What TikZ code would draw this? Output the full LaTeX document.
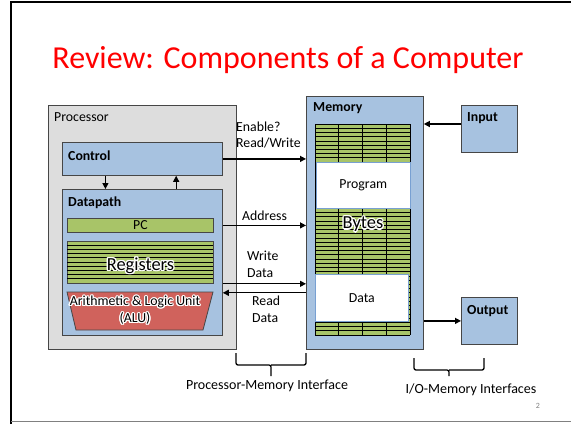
\documentclass[tikz,border=0pt]{standalone}
\usepackage{fontspec}
\setmainfont{Carlito}
\usepackage{contour}
\contourlength{1.3pt}
\contournumber{12}
\usetikzlibrary{arrows.meta,calc}
\definecolor{slgray}{RGB}{221,221,221}
\definecolor{slblue}{RGB}{167,194,224}
\definecolor{slgreen}{RGB}{168,196,104}
\definecolor{slred}{RGB}{208,98,92}
\definecolor{slrim}{RGB}{70,70,70}
\definecolor{slpale}{RGB}{120,160,210}

\tikzset{
  blk/.style={draw=slrim, line width=0.8pt, anchor=north west, inner sep=0pt,
    font=\fontsize{13.8}{16.5}\selectfont},
  tag/.style={anchor=west, inner sep=0pt, align=left,
    font=\fontsize{13.8}{16.5}\selectfont},
  btag/.style={tag, font=\fontsize{13.8}{16.5}\selectfont\bfseries},
  bus/.style={line width=1.2pt, -{Triangle[length=6pt,width=6pt]}},
  stripe/.style={line width=0.7pt, black},
  brc/.style={line width=1.3pt, rounded corners=2pt},
}
\newcommand{\halo}[1]{\contour{white}{#1}}

\begin{document}
\begin{tikzpicture}[x=1pt,y=-1pt]
  \useasboundingbox (0,0) rectangle (571,424);
  \draw[line width=2pt] (11,424) -- (11,2) -- (571,2);
  \draw[gray, line width=1.2pt] (11,421.5) -- (571,421.5);
  \node[text=red, font=\fontsize{32}{36}\selectfont] (title) at (288,60) {Review: Components of a Computer};

  \node[blk, fill=slgray, minimum width=188pt, minimum height=244pt] (proc) at (48,105) {};
  \node[tag] (proclab) at (54,117) {Processor};
  \node[blk, fill=slblue, minimum width=160pt, minimum height=33pt] (ctrl) at (62,142) {};
  \node[btag] (ctrllab) at (68,156) {Control};
  \node[blk, fill=slblue, minimum width=160pt, minimum height=146pt] (dpath) at (62,189) {};
  \node[btag] (dpathlab) at (68,203) {Datapath};
  \node[blk, fill=slgreen, minimum width=146pt, minimum height=14pt] (pc) at (67,218) {PC};
  \node[blk, fill=slgreen, minimum width=146pt, minimum height=42pt] (regs) at (67,241) {};
  \foreach \k in {1,...,9}
    \draw[stripe] ($(regs.north west)+(0,\k*4.2)$) -- ++(146,0);
  \node[font=\fontsize{18.4}{20}\selectfont] (regslab) at ($(regs.center)+(0,4)$) {\halo{Registers}};
  \coordinate (aluNW) at (67,292);
  \coordinate (aluNE) at (213,292);
  \coordinate (aluSE) at (203,330);
  \coordinate (aluSW) at (76,330);
  \draw[slrim, line width=0.8pt, fill=slred] (aluNW) -- (aluNE) -- (aluSE) -- (aluSW) -- cycle;
  \node[align=center, inner sep=0pt, font=\fontsize{13.8}{17}\selectfont] (alulab) at ($(aluNW)!0.5!(aluSE)$)
    {\halo{Arithmetic \& Logic Unit}\\\halo{(ALU)}};

  \node[blk, fill=slblue, minimum width=117pt, minimum height=253pt] (mem) at (306,96) {};
  \node[btag] (memlab) at (313,108) {Memory};
  \fill[slgreen] (315,124) rectangle (410,335);
  \foreach \r in {0,...,50}
    \draw[stripe] (315,124+\r*4.22) -- (410,124+\r*4.22);
  \foreach \c in {315,338.75,362.5,386.25,410}
    \draw[stripe] (\c,124) -- (\c,335);
  \node[blk, draw=slpale, line width=0.6pt, fill=white, minimum width=94pt, minimum height=46pt] (prog) at (316,162) {Program};
  \node[blk, draw=slpale, line width=0.6pt, fill=white, minimum width=93pt, minimum height=47pt] (data) at (315,274) {Data};
  \node[font=\fontsize{18.4}{20}\selectfont] (byteslab) at (363,225) {\halo{Bytes}};

  \node[blk, fill=slblue, minimum width=56pt, minimum height=47pt] (inp) at (461,105) {};
  \node[btag] (inplab) at (467,118) {Input};
  \node[blk, fill=slblue, minimum width=56pt, minimum height=47pt] (outp) at (461,297) {};
  \node[btag] (outplab) at (467,311) {Output};

  \draw[bus] (ctrl.east) -- (ctrl.east -| mem.west);
  \draw[bus] ($(ctrl.south west)!0.27!(ctrl.south east)$) -- ($(dpath.north west)!0.27!(dpath.north east)$);
  \draw[bus] ($(dpath.north west)!0.71!(dpath.north east)$) -- ($(ctrl.south west)!0.71!(ctrl.south east)$);
  \draw[bus] (pc.east -| dpath.east) -- (pc.east -| mem.west);
  \draw[bus] (regs.south -| dpath.east) -- (regs.south -| mem.west);
  \draw[bus] ($(regs.south -| mem.west)+(0,9)$) -- ($(regs.south -| dpath.east)+(0,9)$);
  \draw[bus] ($(inp.north west)+(0,19)$) -- ($(inp.north west -| mem.east)+(0,19)$);
  \draw[bus] (outp.west -| mem.east) -- (outp.west);

  \node[tag] (rwlab) at (236,135) {Enable?\\Read/Write};
  \node[tag] (adlab) at (242,216) {Address};
  \node[tag] (wdlab) at (247,264.5) {Write\\Data};
  \node[tag] (rdlab) at (252,309.5) {Read\\Data};

  \draw[brc] (236,353) -- (236,365) -- (271,365) -- (271,376) (271,365) -- (306,365) -- (306,353);
  \draw[brc] (414,358) -- (414,370) -- (449,370) -- (449,376) (449,370) -- (484,370) -- (484,358);
  \node[font=\fontsize{14}{16}\selectfont] (pmlab) at (267,386) {Processor-Memory Interface};
  \node[font=\fontsize{14}{16}\selectfont] (iolab) at (471,390) {I/O-Memory Interfaces};
  \node[gray, font=\fontsize{8}{9}\selectfont] (pagenum) at (538,406) {2};
\end{tikzpicture}
\end{document}
